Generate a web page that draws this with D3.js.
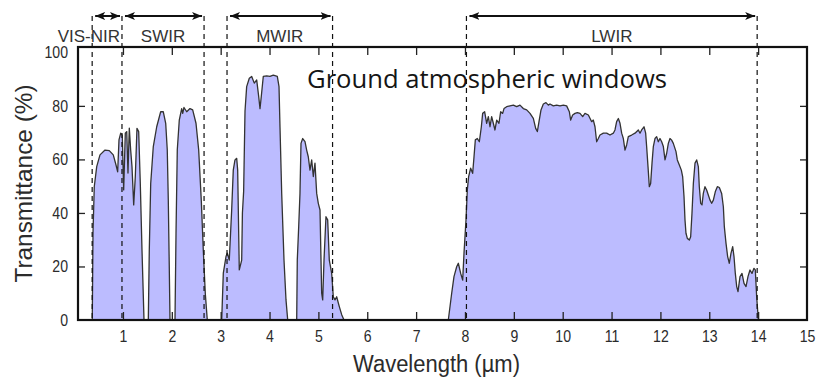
<!DOCTYPE html>
<html>
<head>
<meta charset="utf-8">
<script src="https://cdn.jsdelivr.net/npm/d3@7"></script>
<style>
  html, body { margin: 0; padding: 0; background: #fff; }
  svg { display: block; }
</style>
</head>
<body>
<svg id="chart" width="822" height="381"></svg>
<script>
// Atmospheric transmittance at ground level, wavelength in µm, transmittance in %
const wavelength = [
  // VIS-NIR and 1.0-1.4 µm window
  0.372,0.387,0.413,0.463,0.530,0.633,0.720,0.802,0.858,0.892,0.919,0.954,0.986,1.015,1.048,1.077,1.103,1.130,1.158,1.185,1.220,1.253,1.287,1.322,1.355,1.390,1.431,
  // 1.5-1.9 µm window
  1.519,1.539,1.568,1.621,1.691,1.772,1.826,1.875,1.907,1.928,1.948,1.963,
  // 2.0-2.7 µm window
  2.065,2.086,2.112,2.153,2.202,2.223,2.249,2.305,2.372,2.427,2.495,2.550,2.603,2.644,2.685,2.726,
  // 3.0-4.4 µm window
  3.021,3.054,3.109,3.135,3.176,3.225,3.258,3.293,3.328,3.348,3.381,3.430,3.445,3.470,3.498,3.532,3.586,3.635,3.688,3.737,3.778,3.805,3.831,3.872,3.942,4.009,4.077,4.159,4.194,4.214,4.249,4.296,4.337,4.372,
  // 4.5-5.5 µm window
  4.556,4.568,4.597,4.623,4.644,4.679,4.726,4.760,4.793,4.828,4.863,4.896,4.930,4.965,4.998,5.033,5.067,5.088,5.115,5.155,5.190,5.223,5.272,5.305,5.340,5.374,5.428,5.477,5.524,
  // 7.6-14 µm window
  7.659,7.728,7.775,7.830,7.864,7.912,7.953,7.980,8.021,8.048,
  8.075,8.116,8.157,8.185,8.212,8.253,8.294,8.335,8.362,8.403,
  8.444,8.478,8.512,8.546,8.580,8.614,8.649,8.696,8.730,8.771,
  8.799,8.853,8.921,8.990,9.058,9.126,9.194,9.263,9.331,9.399,
  9.447,9.481,9.515,9.556,9.604,9.658,9.706,9.740,9.808,9.877,
  9.945,10.013,10.081,10.136,10.163,10.204,10.252,10.300,10.354,10.409,
  10.456,10.525,10.593,10.627,10.661,10.695,10.729,10.763,10.832,10.900,
  10.968,11.036,11.070,11.104,11.139,11.173,11.207,11.241,11.275,11.309,
  11.343,11.411,11.480,11.548,11.582,11.616,11.664,11.698,11.718,11.746,
  11.773,11.800,11.828,11.855,11.889,11.923,11.957,11.991,12.026,12.060,
  12.094,12.128,12.162,12.196,12.230,12.264,12.319,12.346,12.387,12.428,
  12.455,12.483,12.503,12.523,12.551,12.592,12.619,12.646,12.674,12.708,
  12.742,12.776,12.796,12.824,12.851,12.878,12.912,12.946,12.980,13.015,
  13.049,13.083,13.124,13.165,13.206,13.253,13.288,13.308,13.342,13.376,
  13.410,13.444,13.479,13.506,13.533,13.561,13.588,13.629,13.670,13.711,
  13.752,13.792,13.833,13.874,13.915,13.942,13.970,14.004
];

const transmittance = [
  0,32.5,49.8,57.3,61.7,63.5,63.3,61.7,57.9,55.4,67.3,69.8,69.1,48.6,69.8,70.4,54.9,71.7,63.5,57.3,43,53.6,71.6,70.4,51,26,0,
  0,26,51,64.8,72.2,77.8,77.8,73.5,63.5,44.8,19.9,0,
  0,32.4,63.5,74.7,79,77.2,79.4,77.8,79,78.5,73.5,63.5,44.8,26.2,10,0,
  0,17.5,23.7,25,22.4,41,56,59.8,60.4,56,18.7,22.4,40,48,78,87.2,90.3,91,88.5,89.7,83.5,79,83.5,91,91.2,91,91.5,91,87.2,72.2,47.3,22.4,7.5,0,
  0,22.4,34.9,47.3,66,67.8,66.6,63.5,61,56,59.8,53.6,58.6,47.3,43.6,41.1,10,7.5,22.4,38.6,37.4,22.4,17.4,8.7,7.5,8.7,5,2,0,
  0,10,16.2,19.9,21.2,17.4,14.9,24.9,37.4,48.6,
  53.6,56.7,54.8,61,67.3,67.8,66.6,72.2,77.2,77.8,
  73.5,76,72.2,76,73.5,71,74.7,73.5,77.8,77.2,
  79,79.7,80,80.3,79.7,80.3,79,78.5,77.2,75.3,
  71.6,70.4,74.1,78.5,80.7,81.2,80.3,80.7,80,80.3,
  80,80.3,80,77.8,74.7,76.6,77.2,77.5,77.2,76,
  77.2,76.6,74.1,74.7,72.2,66.6,67.8,69.1,69.8,69.8,
  69.1,69.8,71,74.1,75.3,73.5,69.8,67.8,63.5,65.4,
  68.5,69.1,69.8,71,69.8,71,72.2,69.8,64.8,57.3,
  49.8,51,58.6,64.8,67.8,68.5,66.6,67.8,66.6,64.8,
  59.8,62.3,66,67.8,67.2,66,62.9,59.8,57.9,56,
  53.6,46.1,37.4,32.4,30.5,29.9,31.1,39.9,51,58.6,
  59.8,57.3,49.8,43.6,43,47.3,49.8,48.6,46.7,44.8,
  43.6,44.8,48,49.8,49.5,47.3,42.3,34.9,28.7,23.7,
  21.2,24.9,27.4,23.7,17.4,12.5,10.6,16.2,17.4,13.7,
  12.5,16.2,18.7,17.4,19.3,18.7,8.7,0
];

// Spectral bands marked above the plot (µm)
const bandNames = ["VIS-NIR", "SWIR", "MWIR", "LWIR"];
const bandStart = [0.37, 0.98, 3.13, 8.03];
const bandEnd   = [0.98, 2.66, 5.29, 13.98];

const xTicks = [1,2,3,4,5,6,7,8,9,10,11,12,13,14,15];
const yTicks = [0,20,40,60,80,100];

const chartTitle = "Ground atmospheric windows";
const xTitle = "Wavelength (µm)";
const yTitle = "Transmittance (%)";

// ---- layout ----
const plotL = 78, plotR = 807, plotT = 47, plotB = 320;
const FONT = "'Liberation Sans', Arial, sans-serif";
const INK = "#2b2b2b";
const SQUEEZE = 0.88;   // narrow glyphs for tick labels

const svg = d3.select("#chart");
const x = d3.scaleLinear().domain([0.08, 15]).range([plotL, plotR]);
const y = d3.scaleLinear().domain([0, 102]).range([plotB, plotT]);

const points = wavelength.map((w, i) => [w, transmittance[i]]);

// filled transmittance curve
svg.append("path")
  .datum(points)
  .attr("fill", "#bcbcff")
  .attr("d", d3.area().x(d => x(d[0])).y0(y(0)).y1(d => y(d[1])));

svg.append("path")
  .datum(points)
  .attr("fill", "none")
  .attr("stroke", "#333")
  .attr("stroke-width", 1.3)
  .attr("stroke-linejoin", "round")
  .attr("d", d3.line().x(d => x(d[0])).y(d => y(d[1])));

// band boundaries
const arrowY = 16;
const edges = Array.from(new Set(bandStart.concat(bandEnd)));
svg.append("g").selectAll("line")
  .data(edges)
  .join("line")
  .attr("x1", d => x(d)).attr("x2", d => x(d))
  .attr("y1", arrowY).attr("y2", plotB)
  .attr("stroke", "#111")
  .attr("stroke-width", 1.2)
  .attr("stroke-dasharray", "5,4");

// arrow heads
const defs = svg.append("defs");
defs.append("marker")
  .attr("id", "head")
  .attr("viewBox", "0 0 10 8")
  .attr("refX", 10).attr("refY", 4)
  .attr("markerWidth", 10).attr("markerHeight", 8)
  .attr("markerUnits", "userSpaceOnUse")
  .attr("orient", "auto-start-reverse")
  .append("path")
  .attr("d", "M0,0 L10,4 L0,8 L2.5,4 Z")
  .attr("fill", "#111");

const bands = bandNames.map((name, i) => ({ name, s: bandStart[i], e: bandEnd[i] }));
svg.append("g").selectAll("line")
  .data(bands)
  .join("line")
  .attr("x1", d => x(d.s) + 3).attr("x2", d => x(d.e) - 2)
  .attr("y1", arrowY).attr("y2", arrowY)
  .attr("stroke", "#111")
  .attr("stroke-width", 2)
  .attr("marker-start", "url(#head)")
  .attr("marker-end", "url(#head)");

// band names; a name wider than its band is right-aligned to the band edge
svg.append("g").selectAll("text")
  .data(bands)
  .join("text")
  .attr("font-family", FONT)
  .attr("font-size", 17)
  .attr("fill", "#333")
  .attr("y", 42)
  .text(d => d.name)
  .each(function(d) {
    const w = this.getComputedTextLength();
    const bw = x(d.e) - x(d.s);
    if (w > bw) {
      d3.select(this).attr("x", x(d.e) - 2).attr("text-anchor", "end");
    } else {
      d3.select(this).attr("x", (x(d.s) + x(d.e)) / 2).attr("text-anchor", "middle");
    }
  });

// axes with inward mirrored ticks
const tick = 8;
const gx = svg.append("g").attr("transform", `translate(0,${plotB})`)
  .call(d3.axisBottom(x).tickValues(xTicks).tickSizeInner(-tick).tickSizeOuter(0).tickPadding(11));
const gxt = svg.append("g").attr("transform", `translate(0,${plotT})`)
  .call(d3.axisTop(x).tickValues(xTicks).tickSizeInner(-tick).tickSizeOuter(0).tickFormat(""));
const gy = svg.append("g").attr("transform", `translate(${plotL},0)`)
  .call(d3.axisLeft(y).tickValues(yTicks).tickSizeInner(-7).tickSizeOuter(0).tickPadding(10));
const gyr = svg.append("g").attr("transform", `translate(${plotR},0)`)
  .call(d3.axisRight(y).tickValues(yTicks).tickSizeInner(-7).tickSizeOuter(0).tickFormat(""));

[gx, gxt, gy, gyr].forEach(g => {
  g.select(".domain").remove();
  g.selectAll(".tick line").attr("stroke", "#222").attr("stroke-width", 1.3);
  g.selectAll("text").attr("font-family", FONT).attr("font-size", 16).attr("fill", INK);
});
// narrower tick digits
gx.selectAll(".tick text").attr("transform", `scale(${SQUEEZE},1)`);
gy.selectAll(".tick text")
  .attr("x", -10 / SQUEEZE)
  .attr("transform", `scale(${SQUEEZE},1)`);

gy.selectAll(".tick").filter(d => d === 0 || d === 100).select("line").remove();
gyr.selectAll(".tick").filter(d => d === 0 || d === 100).select("line").remove();
gx.selectAll(".tick").filter(d => d === 15).select("line").remove();
gxt.selectAll(".tick").filter(d => d === 15).select("line").remove();

// plot frame
svg.append("rect")
  .attr("x", plotL).attr("y", plotT)
  .attr("width", plotR - plotL).attr("height", plotB - plotT)
  .attr("fill", "none")
  .attr("stroke", "#111")
  .attr("stroke-width", 2.2);

// titles
svg.append("text")
  .attr("x", 487).attr("y", 88)
  .attr("text-anchor", "middle")
  .attr("font-family", "'Open Sans', 'Noto Sans', sans-serif")
  .attr("font-size", 25)
  .attr("fill", "#151515")
  .attr("textLength", 360)
  .attr("lengthAdjust", "spacingAndGlyphs")
  .text(chartTitle);

svg.append("text")
  .attr("x", (plotL + plotR) / 2 - 6).attr("y", 372)
  .attr("text-anchor", "middle")
  .attr("font-family", FONT)
  .attr("font-size", 23)
  .attr("fill", INK)
  .attr("textLength", 167)
  .attr("lengthAdjust", "spacingAndGlyphs")
  .text(xTitle);

svg.append("text")
  .attr("transform", `translate(32,${(plotT + plotB) / 2}) rotate(-90)`)
  .attr("text-anchor", "middle")
  .attr("font-family", FONT)
  .attr("font-size", 24)
  .attr("fill", INK)
  .attr("textLength", 198)
  .attr("lengthAdjust", "spacingAndGlyphs")
  .text(yTitle);
</script>
</body>
</html>
